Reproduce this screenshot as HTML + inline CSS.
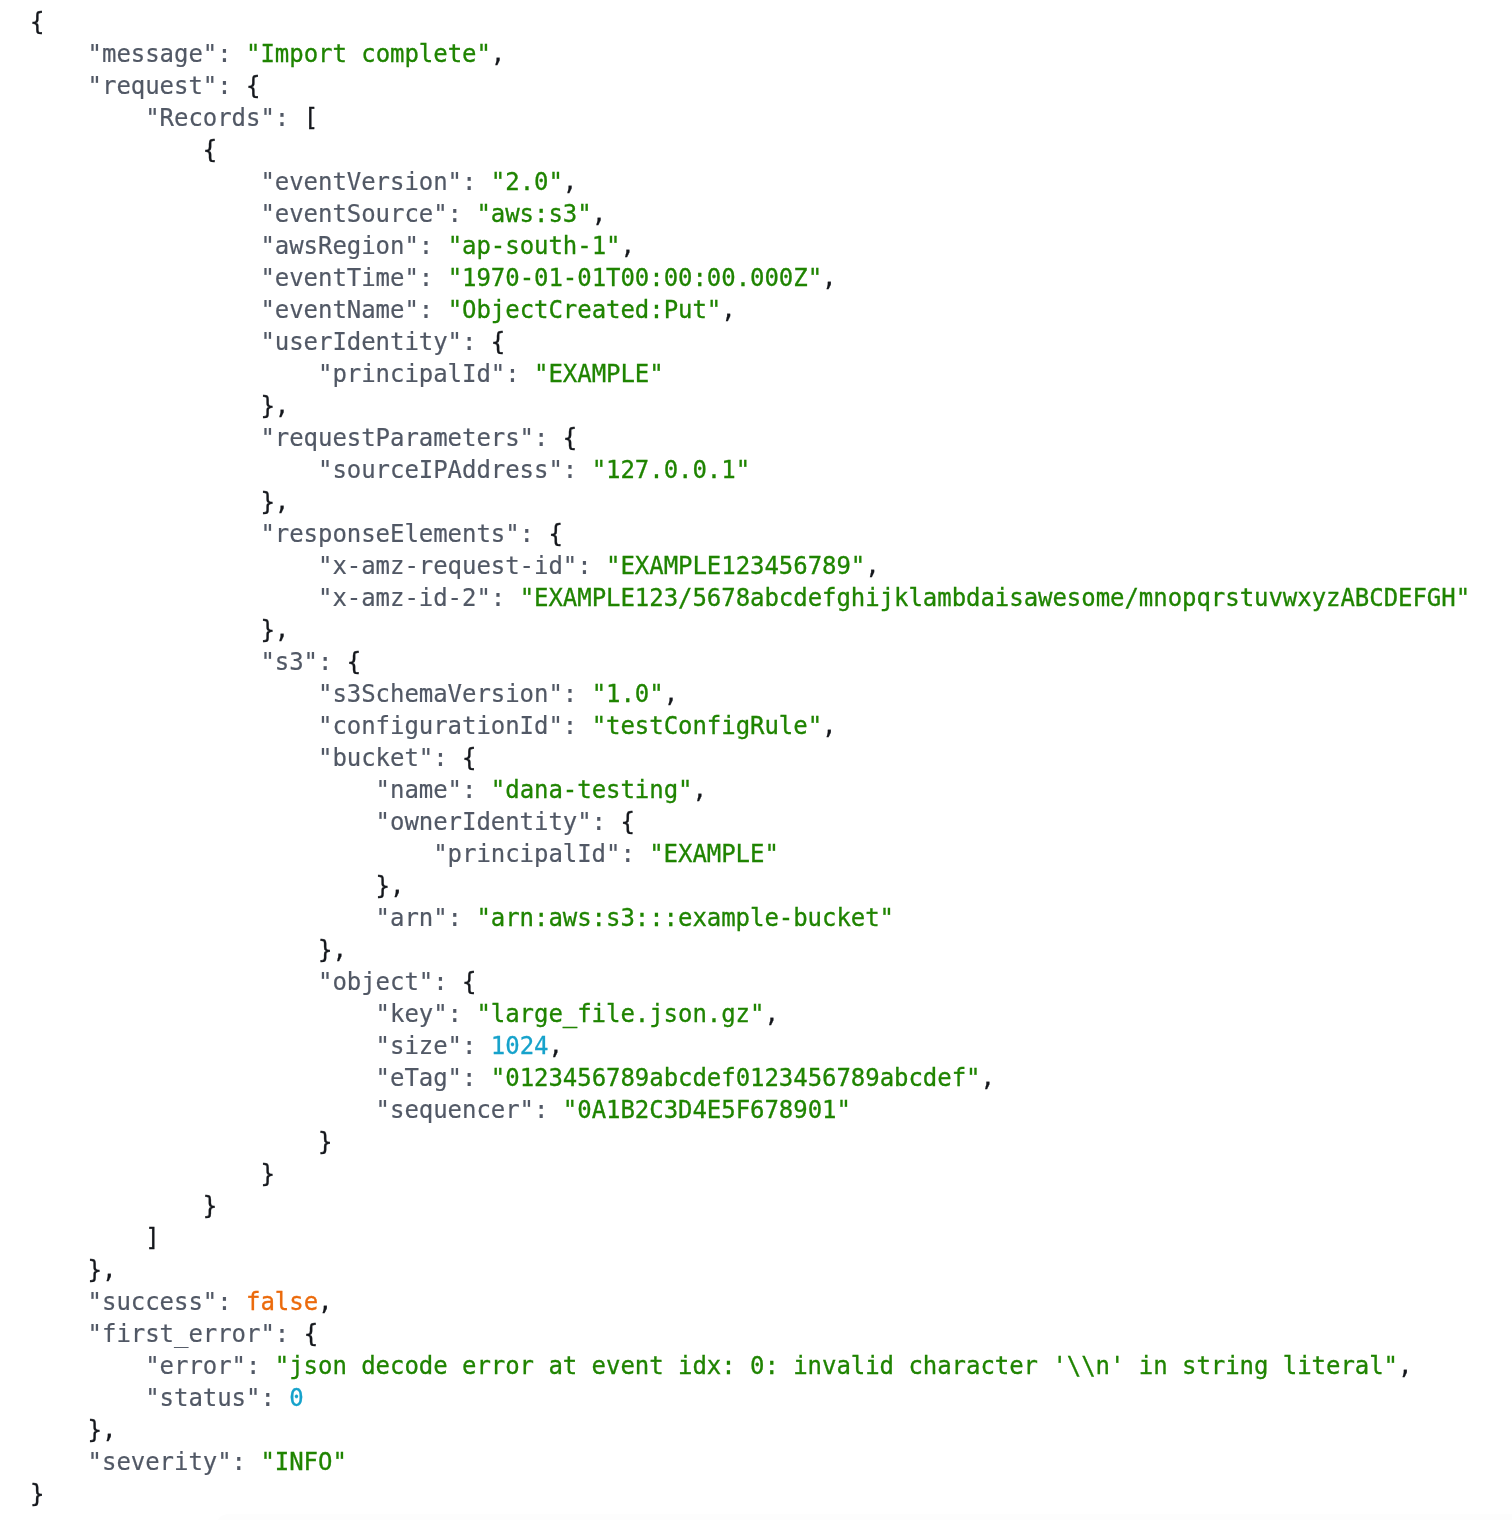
<!DOCTYPE html>
<html lang="en">
<head>
<meta charset="utf-8">
<title>Import result</title>
<style>
html, body { margin: 0; padding: 0; background: #ffffff; overflow: hidden; }
body { width: 1512px; height: 1520px; position: relative; }
pre.json {
  margin: 0;
  padding: 6px 0 0 30px;
  font-family: "DejaVu Sans Mono", "Liberation Mono", monospace;
  font-size: 24px;
  line-height: 32px;
  letter-spacing: -0.0492px;
  color: #14171c;
  white-space: pre;
  tab-size: 4;
  font-variant-ligatures: none;
  font-kerning: none;
  -webkit-font-smoothing: antialiased;
  -webkit-text-stroke: 0.2px;
  will-change: transform;
}
pre.json code { font: inherit; letter-spacing: inherit; }
.k { color: #515865; }
.p { color: #14171c; -webkit-text-stroke: 0.3px; }
.s { color: #1f8400; -webkit-text-stroke: 0.3px; }
.n { color: #16a2cb; -webkit-text-stroke: 0.3px; }
.b { color: #eb6a0b; -webkit-text-stroke: 0.3px; }
.next-panel {
  position: absolute;
  left: 215px;
  top: 1514px;
  width: 1297px;
  height: 40px;
  background: #fdfdfd;
  border-top-left-radius: 14px;
}

</style>
</head>
<body>
<pre class="json"><code><span class="p">{</span>
    <span class="k">&quot;message&quot;:</span> <span class="s">&quot;Import complete&quot;</span><span class="p">,</span>
    <span class="k">&quot;request&quot;:</span> <span class="p">{</span>
        <span class="k">&quot;Records&quot;:</span> <span class="p">[</span>
            <span class="p">{</span>
                <span class="k">&quot;eventVersion&quot;:</span> <span class="s">&quot;2.0&quot;</span><span class="p">,</span>
                <span class="k">&quot;eventSource&quot;:</span> <span class="s">&quot;aws:s3&quot;</span><span class="p">,</span>
                <span class="k">&quot;awsRegion&quot;:</span> <span class="s">&quot;ap-south-1&quot;</span><span class="p">,</span>
                <span class="k">&quot;eventTime&quot;:</span> <span class="s">&quot;1970-01-01T00:00:00.000Z&quot;</span><span class="p">,</span>
                <span class="k">&quot;eventName&quot;:</span> <span class="s">&quot;ObjectCreated:Put&quot;</span><span class="p">,</span>
                <span class="k">&quot;userIdentity&quot;:</span> <span class="p">{</span>
                    <span class="k">&quot;principalId&quot;:</span> <span class="s">&quot;EXAMPLE&quot;</span>
                <span class="p">}</span><span class="p">,</span>
                <span class="k">&quot;requestParameters&quot;:</span> <span class="p">{</span>
                    <span class="k">&quot;sourceIPAddress&quot;:</span> <span class="s">&quot;127.0.0.1&quot;</span>
                <span class="p">}</span><span class="p">,</span>
                <span class="k">&quot;responseElements&quot;:</span> <span class="p">{</span>
                    <span class="k">&quot;x-amz-request-id&quot;:</span> <span class="s">&quot;EXAMPLE123456789&quot;</span><span class="p">,</span>
                    <span class="k">&quot;x-amz-id-2&quot;:</span> <span class="s">&quot;EXAMPLE123/5678abcdefghijklambdaisawesome/mnopqrstuvwxyzABCDEFGH&quot;</span>
                <span class="p">}</span><span class="p">,</span>
                <span class="k">&quot;s3&quot;:</span> <span class="p">{</span>
                    <span class="k">&quot;s3SchemaVersion&quot;:</span> <span class="s">&quot;1.0&quot;</span><span class="p">,</span>
                    <span class="k">&quot;configurationId&quot;:</span> <span class="s">&quot;testConfigRule&quot;</span><span class="p">,</span>
                    <span class="k">&quot;bucket&quot;:</span> <span class="p">{</span>
                        <span class="k">&quot;name&quot;:</span> <span class="s">&quot;dana-testing&quot;</span><span class="p">,</span>
                        <span class="k">&quot;ownerIdentity&quot;:</span> <span class="p">{</span>
                            <span class="k">&quot;principalId&quot;:</span> <span class="s">&quot;EXAMPLE&quot;</span>
                        <span class="p">}</span><span class="p">,</span>
                        <span class="k">&quot;arn&quot;:</span> <span class="s">&quot;arn:aws:s3:::example-bucket&quot;</span>
                    <span class="p">}</span><span class="p">,</span>
                    <span class="k">&quot;object&quot;:</span> <span class="p">{</span>
                        <span class="k">&quot;key&quot;:</span> <span class="s">&quot;large_file.json.gz&quot;</span><span class="p">,</span>
                        <span class="k">&quot;size&quot;:</span> <span class="n">1024</span><span class="p">,</span>
                        <span class="k">&quot;eTag&quot;:</span> <span class="s">&quot;0123456789abcdef0123456789abcdef&quot;</span><span class="p">,</span>
                        <span class="k">&quot;sequencer&quot;:</span> <span class="s">&quot;0A1B2C3D4E5F678901&quot;</span>
                    <span class="p">}</span>
                <span class="p">}</span>
            <span class="p">}</span>
        <span class="p">]</span>
    <span class="p">}</span><span class="p">,</span>
    <span class="k">&quot;success&quot;:</span> <span class="b">false</span><span class="p">,</span>
    <span class="k">&quot;first_error&quot;:</span> <span class="p">{</span>
        <span class="k">&quot;error&quot;:</span> <span class="s">&quot;json decode error at event idx: 0: invalid character '\\n' in string literal&quot;</span><span class="p">,</span>
        <span class="k">&quot;status&quot;:</span> <span class="n">0</span>
    <span class="p">}</span><span class="p">,</span>
    <span class="k">&quot;severity&quot;:</span> <span class="s">&quot;INFO&quot;</span>
<span class="p">}</span></code></pre>
<div class="next-panel"></div>
</body>
</html>
